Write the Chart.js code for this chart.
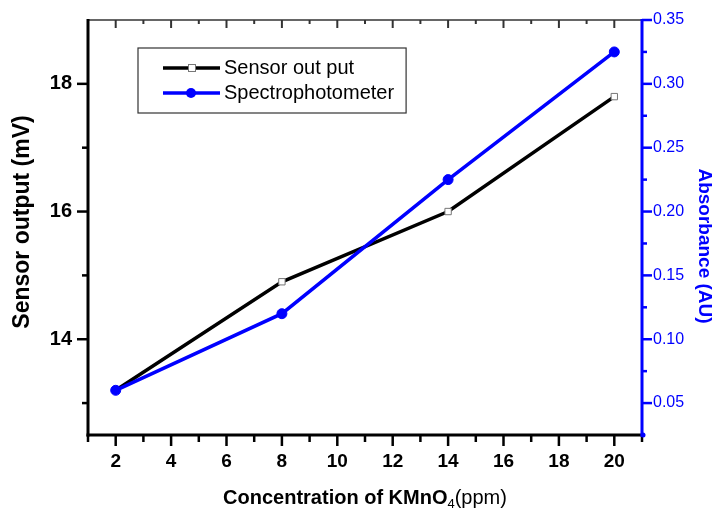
<!DOCTYPE html>
<html>
<head>
<meta charset="utf-8">
<script src="https://cdn.jsdelivr.net/npm/chart.js@4"></script>
<style>
html,body{margin:0;padding:0;background:#fff;}
#wrap{width:716px;height:509px;position:relative;}
</style>
</head>
<body>
<div id="wrap"><canvas id="c" width="716" height="509"></canvas></div>
<script>
// ---- data ----
const concentration = [2, 8, 14, 20];
const sensorOutput = [13.2, 14.9, 16.0, 17.8];
const absorbance = [0.06, 0.12, 0.225, 0.325];
const xTickLabels = [2, 4, 6, 8, 10, 12, 14, 16, 18, 20];
const leftTicks = [14, 16, 18];
const rightTicks = [0.05, 0.10, 0.15, 0.20, 0.25, 0.30, 0.35];
const seriesNames = ['Sensor out put', 'Spectrophotometer'];

const FONT = "'Liberation Sans', Arial, sans-serif";
const BLUE = '#0000ff';

const axesPlugin = {
  id: 'axesPlugin',
  afterDraw(chart) {
    const ctx = chart.ctx;
    const a = chart.chartArea;
    const x = chart.scales.x, y = chart.scales.y, y2 = chart.scales.y2;
    ctx.save();
    // top thin axis
    ctx.strokeStyle = '#333';
    ctx.lineWidth = 1.5;
    ctx.beginPath(); ctx.moveTo(a.left, a.top); ctx.lineTo(a.right, a.top); ctx.stroke();
    for (let v = 1; v <= 21; v++) {
      const px = x.getPixelForValue(v);
      const len = v % 2 === 0 ? 8 : 4;
      ctx.lineWidth = 2;
      ctx.beginPath(); ctx.moveTo(px, a.top); ctx.lineTo(px, a.top + len); ctx.stroke();
    }
    // bottom axis
    ctx.strokeStyle = '#000';
    ctx.lineWidth = 3;
    ctx.beginPath(); ctx.moveTo(a.left - 1.5, a.bottom); ctx.lineTo(a.right, a.bottom); ctx.stroke();
    for (let v = 1; v <= 21; v++) {
      const px = x.getPixelForValue(v);
      const len = v % 2 === 0 ? 11 : 7;
      ctx.lineWidth = 2.5;
      ctx.beginPath(); ctx.moveTo(px, a.bottom); ctx.lineTo(px, a.bottom + len); ctx.stroke();
    }
    // left axis
    ctx.lineWidth = 3;
    ctx.beginPath(); ctx.moveTo(a.left, a.top - 1); ctx.lineTo(a.left, a.bottom + 1.5); ctx.stroke();
    for (let v = 13; v <= 18; v++) {
      const py = y.getPixelForValue(v);
      const len = v % 2 === 0 ? 11 : 6;
      ctx.lineWidth = 2.5;
      ctx.beginPath(); ctx.moveTo(a.left, py); ctx.lineTo(a.left - len, py); ctx.stroke();
    }
    // right axis (blue)
    ctx.strokeStyle = BLUE;
    ctx.lineWidth = 3;
    ctx.beginPath(); ctx.moveTo(a.right, a.top - 1); ctx.lineTo(a.right, a.bottom + 1.5); ctx.stroke();
    for (let k = 2; k <= 14; k++) {
      const v = k * 0.025;
      const py = y2.getPixelForValue(v);
      const len = k % 2 === 0 ? 10 : 5;
      ctx.lineWidth = 2.5;
      ctx.beginPath(); ctx.moveTo(a.right, py); ctx.lineTo(a.right + len, py); ctx.stroke();
    }
    ctx.fillStyle = BLUE;
    ctx.beginPath(); ctx.arc(a.right + 1, a.bottom, 2.5, 0, Math.PI * 2); ctx.fill();

    // axis titles
    ctx.fillStyle = '#000';
    ctx.textAlign = 'center';
    ctx.textBaseline = 'middle';
    ctx.save();
    ctx.translate(23, 222);
    ctx.rotate(-Math.PI / 2);
    ctx.font = 'bold 23px ' + FONT;
    ctx.fillText('Sensor output (mV)', 0, 0);
    ctx.restore();

    ctx.save();
    ctx.translate(704, 246);
    ctx.rotate(Math.PI / 2);
    ctx.fillStyle = BLUE;
    ctx.font = 'bold 19px ' + FONT;
    ctx.fillText('Absorbance (AU)', 0, 0);
    ctx.restore();

    // x title with subscript
    const p1 = 'Concentration of KMnO', p2 = '4', p3 = '(ppm)';
    ctx.textAlign = 'left';
    ctx.textBaseline = 'alphabetic';
    ctx.font = 'bold 20px ' + FONT; const w1 = ctx.measureText(p1).width;
    ctx.font = '13px ' + FONT; const w2 = ctx.measureText(p2).width;
    ctx.font = '20px ' + FONT; const w3 = ctx.measureText(p3).width;
    const total = w1 + w2 + w3;
    let tx = (a.left + a.right) / 2 - total / 2;
    const ty = 504;
    ctx.fillStyle = '#000';
    ctx.font = 'bold 20px ' + FONT; ctx.fillText(p1, tx, ty); tx += w1;
    ctx.font = '13px ' + FONT; ctx.fillText(p2, tx, ty + 4); tx += w2;
    ctx.font = '20px ' + FONT; ctx.fillText(p3, tx, ty);

    // legend
    ctx.font = '20px ' + FONT;
    const tw = Math.max(ctx.measureText(seriesNames[0]).width, ctx.measureText(seriesNames[1]).width);
    const bx = 138, by = 48, bh = 65;
    const textX = 224;
    const bw = textX + tw + 12 - bx;
    ctx.fillStyle = '#fff';
    ctx.fillRect(bx, by, bw, bh);
    ctx.strokeStyle = '#333';
    ctx.lineWidth = 1.2;
    ctx.strokeRect(bx, by, bw, bh);
    const rows = [68, 93];
    // row 1
    ctx.strokeStyle = '#000'; ctx.lineWidth = 3.5;
    ctx.beginPath(); ctx.moveTo(163, rows[0]); ctx.lineTo(220, rows[0]); ctx.stroke();
    ctx.fillStyle = '#fff'; ctx.strokeStyle = '#777'; ctx.lineWidth = 1;
    ctx.fillRect(188.5, rows[0] - 3.5, 7, 7); ctx.strokeRect(188.5, rows[0] - 3.5, 7, 7);
    // row 2
    ctx.strokeStyle = BLUE; ctx.lineWidth = 3.5;
    ctx.beginPath(); ctx.moveTo(163, rows[1]); ctx.lineTo(220, rows[1]); ctx.stroke();
    ctx.fillStyle = BLUE;
    ctx.beginPath(); ctx.arc(191, rows[1], 5, 0, Math.PI * 2); ctx.fill();
    // texts
    ctx.fillStyle = '#000';
    ctx.textAlign = 'left';
    ctx.textBaseline = 'middle';
    ctx.fillText(seriesNames[0], textX, rows[0]);
    ctx.fillText(seriesNames[1], textX, rows[1]);
    ctx.restore();
  }
};

function zeroPad(s) {
  s.paddingTop = 0; s.paddingBottom = 0; s.paddingLeft = 0; s.paddingRight = 0;
}

new Chart(document.getElementById('c'), {
  type: 'line',
  data: {
    datasets: [
      {
        label: seriesNames[1],
        data: concentration.map((c, i) => ({ x: c, y: absorbance[i] })),
        yAxisID: 'y2',
        borderColor: BLUE,
        borderWidth: 3.5,
        pointStyle: 'circle',
        pointRadius: 5,
        pointBackgroundColor: BLUE,
        pointBorderColor: BLUE,
        pointBorderWidth: 1,
        tension: 0
      },
      {
        label: seriesNames[0],
        data: concentration.map((c, i) => ({ x: c, y: sensorOutput[i] })),
        yAxisID: 'y',
        borderColor: '#000',
        borderWidth: 3.5,
        pointStyle: 'rect',
        pointRadius: 4.5,
        pointBackgroundColor: '#fff',
        pointBorderColor: '#777',
        pointBorderWidth: 1,
        tension: 0
      }
    ]
  },
  options: {
    responsive: false,
    animation: false,
    layout: { padding: { top: 20, left: 0, right: 0, bottom: 0 } },
    plugins: { legend: { display: false }, tooltip: { enabled: false } },
    scales: {
      x: {
        type: 'linear',
        position: 'bottom',
        min: 1, max: 21,
        afterBuildTicks: s => { s.ticks = xTickLabels.map(v => ({ value: v })); },
        ticks: {
          autoSkip: false,
          maxRotation: 0,
          color: '#000',
          font: { family: FONT, size: 19, weight: 'bold' },
          padding: 15
        },
        grid: { display: false, drawTicks: false },
        border: { display: false },
        afterFit: s => { s.height = 74; zeroPad(s); }
      },
      y: {
        type: 'linear',
        position: 'left',
        min: 12.5, max: 19,
        afterBuildTicks: s => { s.ticks = leftTicks.map(v => ({ value: v })); },
        ticks: {
          color: '#000',
          font: { family: FONT, size: 20, weight: 'bold' },
          padding: 16
        },
        grid: { display: false, drawTicks: false },
        border: { display: false },
        afterFit: s => { s.width = 88; zeroPad(s); }
      },
      y2: {
        type: 'linear',
        position: 'right',
        min: 0.025, max: 0.35,
        afterBuildTicks: s => { s.ticks = rightTicks.map(v => ({ value: v })); },
        ticks: {
          color: BLUE,
          font: { family: FONT, size: 16 },
          padding: 11,
          callback: v => Number(v).toFixed(2)
        },
        grid: { display: false, drawTicks: false },
        border: { display: false },
        afterFit: s => { s.width = 74; zeroPad(s); }
      }
    }
  },
  plugins: [axesPlugin]
});
</script>
</body>
</html>
